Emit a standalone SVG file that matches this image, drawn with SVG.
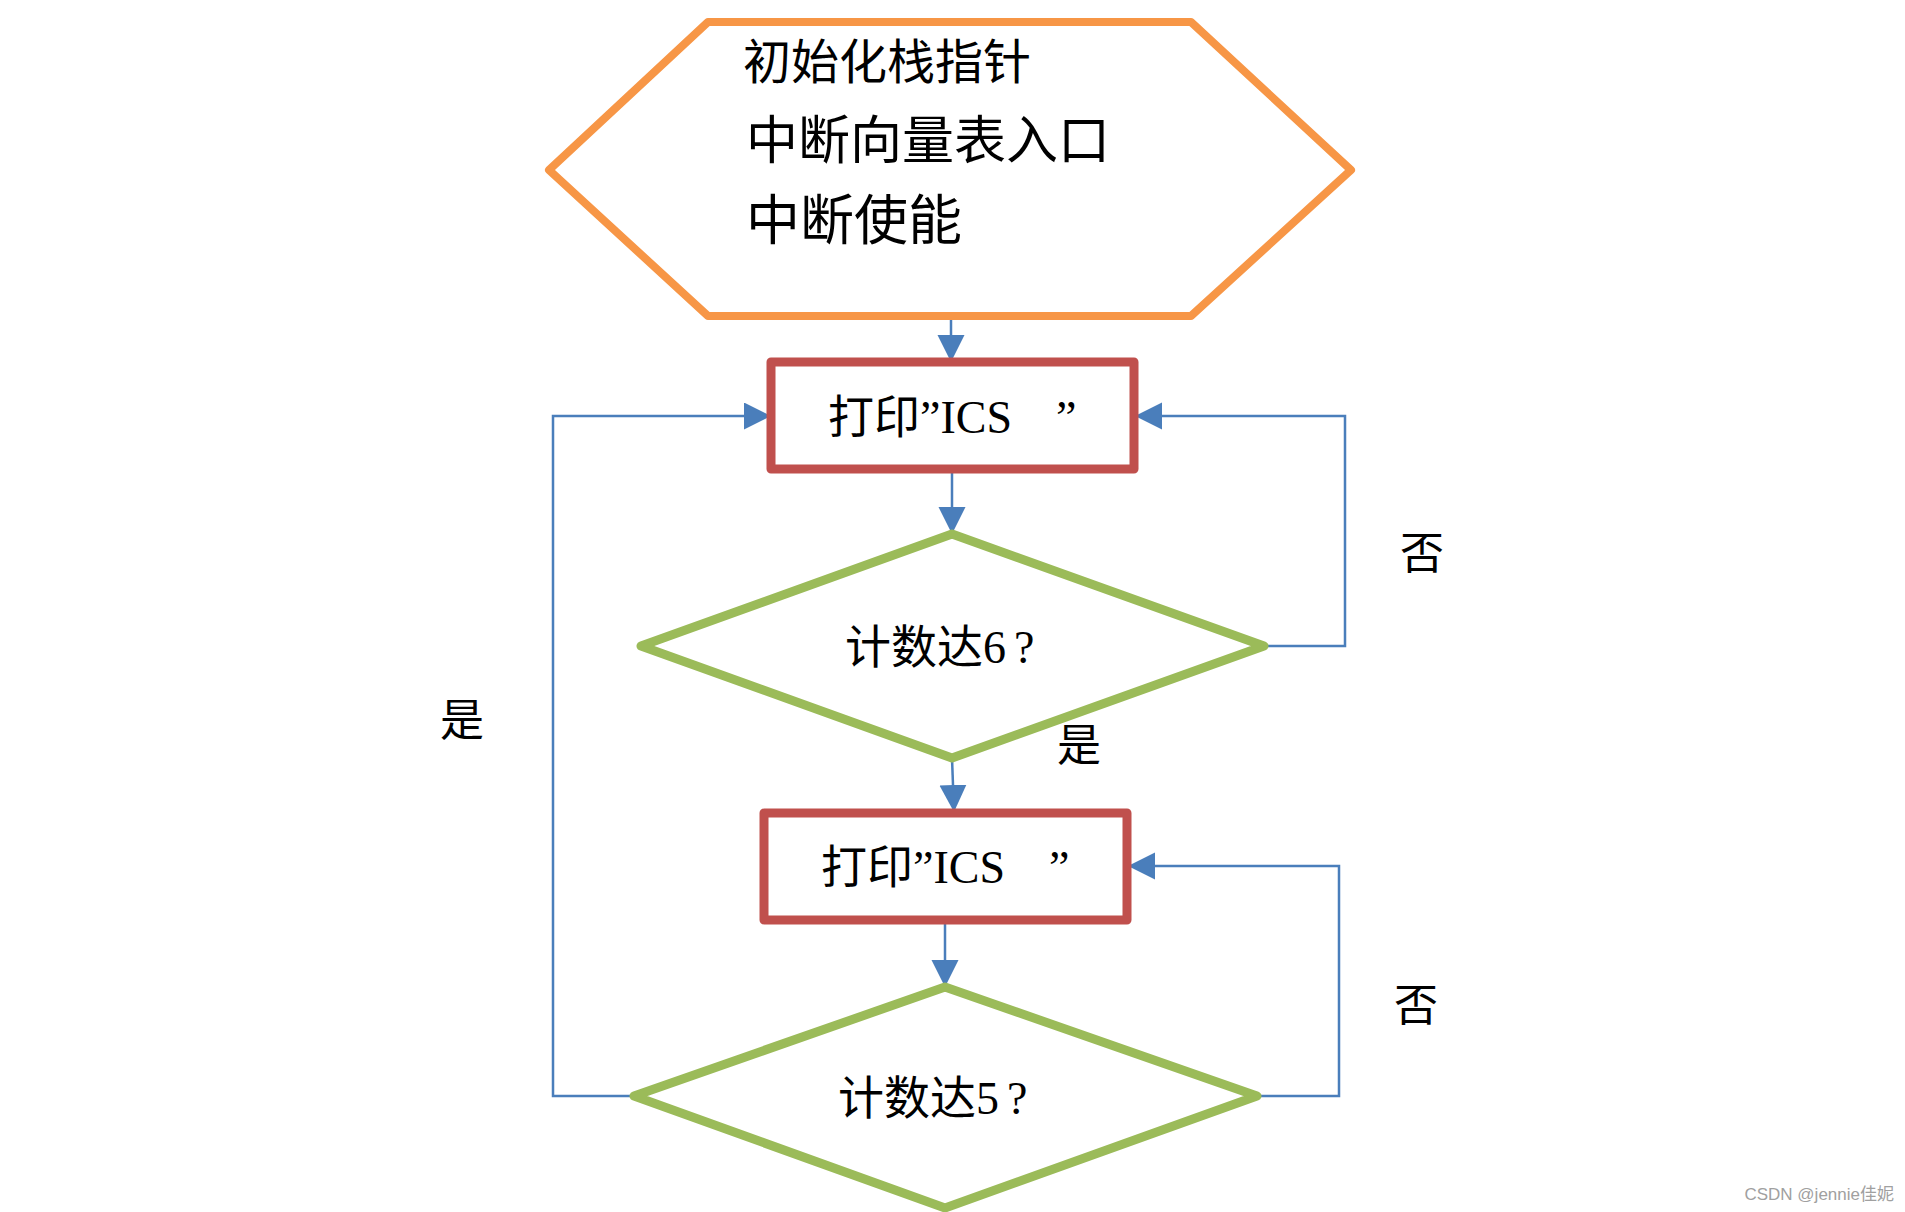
<svg xmlns="http://www.w3.org/2000/svg" width="1905" height="1212" viewBox="0 0 1905 1212">
  <style>
    .hex { fill: #FFFFFF; stroke: #F79646; stroke-width: 8; stroke-linejoin: round; }
    .box { fill: #FFFFFF; stroke: #C0504D; stroke-width: 9; stroke-linejoin: round; }
    .dia { fill: #FFFFFF; stroke: #9BBB59; stroke-width: 9; stroke-linejoin: round; }
    .conn { fill: none; stroke: #4A7EBB; stroke-width: 2.5; }
    .hx { font-family: "Noto Sans CJK SC", "Liberation Sans", sans-serif; fill: #000000; }
    .t { font-family: "Liberation Serif", "Noto Sans CJK SC", serif; font-size: 46px; fill: #000000; }
    .lbl { font-family: "Liberation Serif", "Noto Sans CJK SC", serif; font-size: 44px; fill: #000000; }
    .wm { font-family: "Liberation Sans", "Noto Sans CJK SC", sans-serif; font-size: 17px; fill: #A0A0A0; }
  </style>
  <defs>
    <marker id="arr" markerUnits="userSpaceOnUse" markerWidth="28" markerHeight="28" refX="27" refY="13.5" orient="auto">
      <path d="M0,0 L27,13.5 L0,27 z" fill="#4A7EBB"/>
    </marker>
  </defs>
  <rect x="0" y="0" width="1905" height="1212" fill="#FFFFFF"/>

  <g id="connectors">
    <path class="conn" d="M951,320 L951,362" marker-end="url(#arr)"/>
    <path class="conn" d="M952,470 L952,534" marker-end="url(#arr)"/>
    <path class="conn" d="M1264,646 L1345,646 L1345,416 L1135,416" marker-end="url(#arr)"/>
    <path class="conn" d="M952,758 L954,812" marker-end="url(#arr)"/>
    <path class="conn" d="M945,921 L945,987" marker-end="url(#arr)"/>
    <path class="conn" d="M1257,1096 L1339,1096 L1339,866 L1128,866" marker-end="url(#arr)"/>
    <path class="conn" d="M634,1096 L553,1096 L553,416 L771,416" marker-end="url(#arr)"/>
  </g>

  <g id="init">
    <polygon class="hex" points="708,22 1191,22 1351,170 1191,316 708,316 549,170"/>
    <text class="hx" font-size="48" x="743" y="79">初始化栈指针</text>
    <text class="hx" font-size="52" x="746" y="159">中断向量表入口</text>
    <text class="hx" font-size="54" x="746" y="240">中断使能</text>
  </g>

  <g id="print1">
    <rect class="box" x="771" y="362" width="363" height="107"/>
    <text class="t" x="828" y="433">打印”ICS<tspan x="1056">”</tspan></text>
  </g>

  <g id="check6">
    <polygon class="dia" points="952,534 1264,646 952,758 641,646"/>
    <text class="t" x="845" y="663">计数达6<tspan dx="8">?</tspan></text>
  </g>

  <g id="print2">
    <rect class="box" x="764" y="813" width="363" height="107"/>
    <text class="t" x="821" y="883">打印”ICS<tspan x="1049">”</tspan></text>
  </g>

  <g id="check5">
    <polygon class="dia" points="945,987 1257,1096 945,1208 634,1096"/>
    <text class="t" x="838" y="1114">计数达5<tspan dx="8">?</tspan></text>
  </g>

  <g id="labels">
    <text class="lbl" x="1400" y="569">否</text>
    <text class="lbl" x="1394" y="1021">否</text>
    <text class="lbl" x="440" y="736">是</text>
    <text class="lbl" x="1057" y="761">是</text>
  </g>

  <text class="wm" x="1894" y="1200" text-anchor="end">CSDN @jennie佳妮</text>
</svg>
